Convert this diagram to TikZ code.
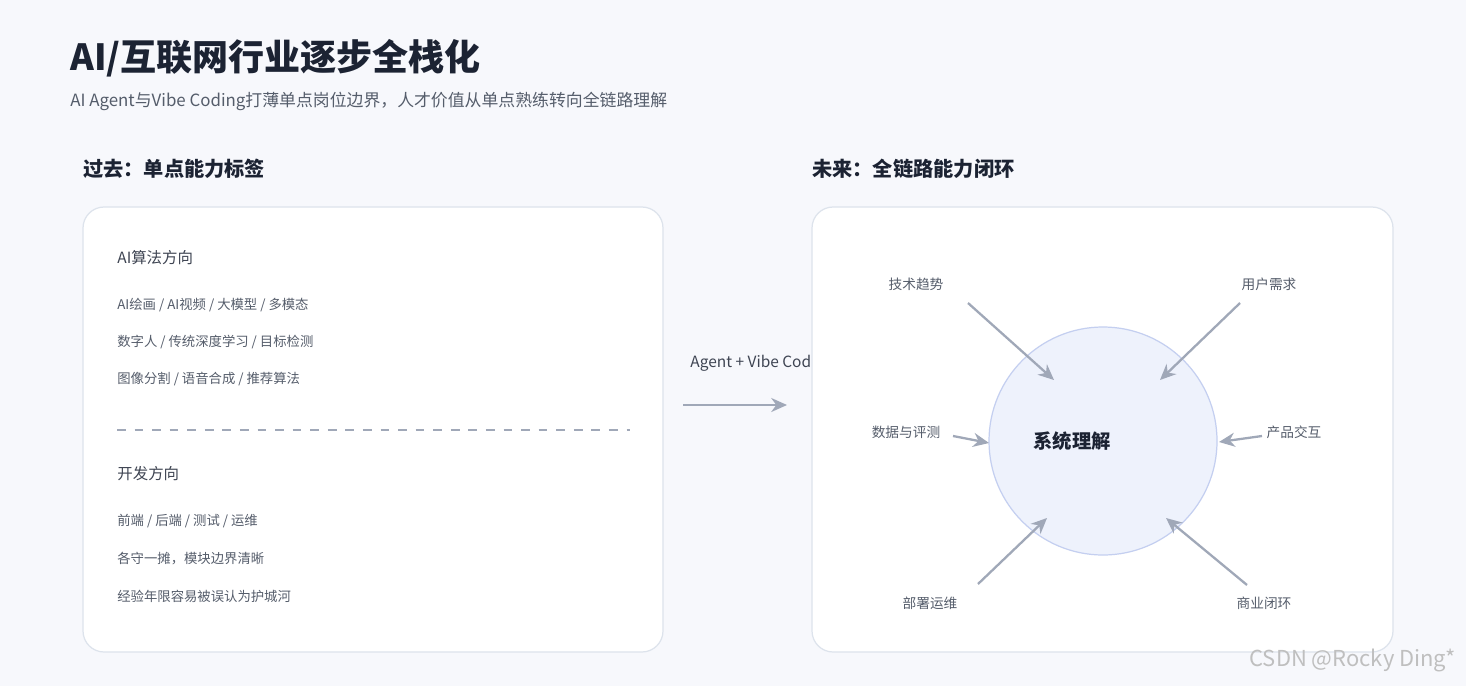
\documentclass[tikz,border=0pt]{standalone}
\usepackage{fontspec}
\setmainfont{Noto Sans CJK SC}
\usetikzlibrary{arrows.meta}
\definecolor{bgc}{HTML}{F7F8FC}
\definecolor{inkc}{HTML}{1C2333}
\definecolor{greyc}{HTML}{555D6B}
\definecolor{linec}{HTML}{DDE3EC}
\definecolor{arrc}{HTML}{A0A8B8}
\definecolor{circf}{HTML}{EEF2FC}
\definecolor{circd}{HTML}{C4CFF0}
\tikzset{
  panel/.style={draw=linec, fill=white, rounded corners=12pt, line width=0.7pt},
  head/.style={anchor=west, font=\fontsize{11.5}{13}\selectfont\bfseries, text=inkc},
  sub/.style={anchor=west, font=\fontsize{8.8}{10}\selectfont, text=inkc!85},
  item/.style={anchor=west, font=\fontsize{7.6}{9}\selectfont, text=greyc},
  tag/.style={font=\fontsize{7.8}{9}\selectfont, text=greyc},
  pointer/.style={draw=arrc, line width=1.3pt, -{Stealth[length=9pt,width=8pt]}}
}
\begin{document}
\begin{tikzpicture}[x=0.02cm, y=-0.02cm]
\fill[bgc] (0,0) rectangle (1466,686);
\useasboundingbox (0,0) rectangle (1466,686);

% title
\node[anchor=west, font=\fontsize{20.5}{24}\selectfont\bfseries, text=inkc, inner sep=0] (title) at (70,58) {AI/互联网行业逐步全栈化};
\node[anchor=west, font=\fontsize{9.6}{11}\selectfont, text=greyc, inner sep=0] (subtitle) at (70,101) {AI Agent与Vibe Coding打薄单点岗位边界，人才价值从单点熟练转向全链路理解};

% left side
\node[head, inner sep=0] (past) at (83,169) {过去：单点能力标签};
\draw[panel] (83,207) rectangle (663,652);
\node[sub, inner sep=0] (algo) at (117,258) {AI算法方向};
\node[item, inner sep=0] (a1) at (117,305) {AI绘画 / AI视频 / 大模型 / 多模态};
\node[item, inner sep=0] (a2) at (117,342) {数字人 / 传统深度学习 / 目标检测};
\node[item, inner sep=0] (a3) at (117,379) {图像分割 / 语音合成 / 推荐算法};
\draw[arrc, line width=1pt, dash pattern=on 5pt off 5pt] (117,430) -- (630,430);
\node[sub, inner sep=0] (dev) at (117,474) {开发方向};
\node[item, inner sep=0] (d1) at (117,521) {前端 / 后端 / 测试 / 运维};
\node[item, inner sep=0] (d2) at (117,559) {各守一摊，模块边界清晰};
\node[item, inner sep=0] (d3) at (117,596) {经验年限容易被误认为护城河};

% middle
\node[font=\fontsize{8.8}{10}\selectfont, text=inkc!85] (agent) at (762,363) {Agent + Vibe Coding};
\coordinate (m1) at (683,405);
\coordinate (m2) at (787,405);
\draw[pointer] (m1) -- (m2);

% right side
\node[head, inner sep=0] (future) at (812,169) {未来：全链路能力闭环};
\draw[panel] (812,207) rectangle (1393,652);
\node[circle, draw=circd, fill=circf, line width=0.7pt, minimum size=228*0.02cm, inner sep=0] (core) at (1103,441) {};
\node[font=\fontsize{11}{13}\selectfont\bfseries, text=inkc] (coretext) at (1072,441) {系统理解};

\node[tag] (tech) at (916,284) {技术趋势};
\node[tag] (user) at (1269,284) {用户需求};
\node[tag] (data) at (906,432) {数据与评测};
\node[tag] (prod) at (1294,432) {产品交互};
\node[tag] (depl) at (930,603) {部署运维};
\node[tag] (biz) at (1264,603) {商业闭环};

\coordinate (t0) at (968,303);   \coordinate (t1) at (1054,380);
\coordinate (u0) at (1240,303);  \coordinate (u1) at (1160,380);
\coordinate (s0) at (953,436);   \coordinate (s1) at (989,443);
\coordinate (p0) at (1262,436);  \coordinate (p1) at (1219,442);
\coordinate (y0) at (978,584);   \coordinate (y1) at (1047,518);
\coordinate (b0) at (1247,585);  \coordinate (b1) at (1166,518);
\foreach \a/\b in {t0/t1,u0/u1,s0/s1,p0/p1,y0/y1,b0/b1}
  \draw[pointer] (\a) -- (\b);

% watermark
\node[anchor=east, font=\fontsize{12.5}{14}\selectfont, text=black!25] (mark) at (1462,660) {CSDN @Rocky Ding*};
\end{tikzpicture}
\end{document}
